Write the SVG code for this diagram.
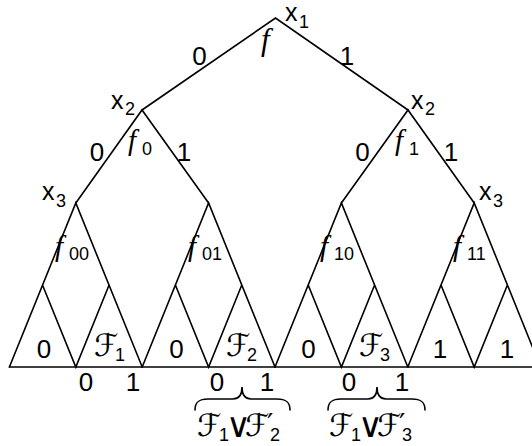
<svg xmlns="http://www.w3.org/2000/svg" width="532" height="446" viewBox="0 0 532 446">
<style>
.ln{stroke:#000;stroke-width:1.6;fill:none;stroke-linecap:round}
.t{font-family:"Liberation Sans",Arial,sans-serif;font-size:26px;fill:#000}
.x{font-family:"Liberation Sans",Arial,sans-serif;font-size:25px;fill:#000}
.s{font-family:"Liberation Sans",Arial,sans-serif;font-size:18px;fill:#000}
.f{font-family:"Liberation Serif","Times New Roman",serif;font-style:italic;font-size:29px;fill:#000}
.F{font-family:"DejaVu Serif","DejaVu Sans",serif;font-size:31px;fill:#000}
.v{font-family:"DejaVu Sans",sans-serif;font-size:34px;fill:#000}
.p{font-family:"DejaVu Sans",sans-serif;font-size:28px;fill:#000}
.m{text-anchor:middle}
</style>
<rect width="532" height="446" fill="#fff"/>
<g id="connectors">
<path class="ln" d="M142,110 L275.5,18 L408,110"/>
<path class="ln" d="M75.8,203 L142,110 L208.6,203"/>
<path class="ln" d="M341.4,203 L408,110 L474.2,203"/>
<path class="ln" d="M9.4,367 L75.8,203 L142.2,367 M42.5,285 L75.8,367 L109.1,285"/>
<path class="ln" d="M142.2,367 L208.6,203 L275,367 M175.4,285 L208.6,367 L241.8,285"/>
<path class="ln" d="M275,367 L341.4,203 L407.8,367 M308.2,285 L341.4,367 L374.6,285"/>
<path class="ln" d="M407.8,367 L474.2,203 L540.6,367 M441,285 L474.2,367 L507.4,285"/>
<path class="ln" d="M9.4,367 L532,367"/>
<path class="ln" d="M195,410 C195,402 199,399 208,399 L233,399 C239,399 242,395 242,387 C242,395 245,399 251,399 L277,399 C286,399 290,402 290,410"/>
<path class="ln" d="M328,410 C328,402 332,399 341,399 L368,399 C374,399 377,395 377,387 C377,395 380,399 386,399 L412,399 C421,399 425,402 425,410"/>
</g>
<g id="x1">
<text class="x" x="285" y="21">x</text><text class="s" x="299" y="28">1</text>
<text class="f" x="261" y="50" style="font-size:31px">f</text>
<text class="t m" x="199.5" y="65">0</text>
<text class="t m" x="347" y="65">1</text>
</g>
<g id="x2-left">
<text class="x" x="111" y="109">x</text><text class="s" x="125" y="115">2</text>
<text class="f" x="128" y="150">f</text><text class="s" x="142" y="155">0</text>
<text class="t m" x="97" y="161">0</text>
<text class="t m" x="184" y="161">1</text>
</g>
<g id="x2-right">
<text class="x" x="411" y="109">x</text><text class="s" x="425" y="115">2</text>
<text class="f" x="395" y="150">f</text><text class="s" x="409" y="155">1</text>
<text class="t m" x="362.5" y="161">0</text>
<text class="t m" x="451" y="161">1</text>
</g>
<g id="x3-a">
<text class="x" x="42" y="200">x</text><text class="s" x="56" y="207">3</text>
<text class="f" x="55" y="256">f</text><text class="s" x="69" y="260">00</text>
</g>
<g id="x3-b">
<text class="f" x="188" y="256">f</text><text class="s" x="202" y="260">01</text>
</g>
<g id="x3-c">
<text class="f" x="320" y="256">f</text><text class="s" x="334" y="260">10</text>
</g>
<g id="x3-d">
<text class="x" x="479" y="200">x</text><text class="s" x="493" y="207">3</text>
<text class="f" x="453" y="256">f</text><text class="s" x="467" y="260">11</text>
</g>
<g id="leaves">
<text class="t m" x="44" y="358">0</text>
<text class="F" x="94" y="356">ℱ</text><text class="s" x="115" y="361">1</text>
<text class="t m" x="176.5" y="358">0</text>
<text class="F" x="226" y="356">ℱ</text><text class="s" x="247" y="361">2</text>
<text class="t m" x="308.5" y="358">0</text>
<text class="F" x="359" y="356">ℱ</text><text class="s" x="380" y="361">3</text>
<text class="t m" x="440" y="358">1</text>
<text class="t m" x="507" y="358">1</text>
</g>
<g id="bottom-labels">
<text class="t m" x="86" y="391">0</text>
<text class="t m" x="133" y="391">1</text>
<text class="t m" x="217" y="391">0</text>
<text class="t m" x="267" y="391">1</text>
<text class="t m" x="349" y="391">0</text>
<text class="t m" x="402" y="391">1</text>
</g>
<g id="brace1-label">
<text class="F" x="197" y="436">ℱ</text><text class="s" x="219" y="441">1</text>
<text class="v" x="226" y="437">∨</text>
<text class="F" x="245" y="436">ℱ</text><text class="p" x="267" y="434">′</text><text class="s" x="270" y="441">2</text>
</g>
<g id="brace2-label">
<text class="F" x="329" y="436">ℱ</text><text class="s" x="351" y="441">1</text>
<text class="v" x="358" y="437">∨</text>
<text class="F" x="377" y="436">ℱ</text><text class="p" x="399" y="434">′</text><text class="s" x="402" y="441">3</text>
</g>
</svg>
